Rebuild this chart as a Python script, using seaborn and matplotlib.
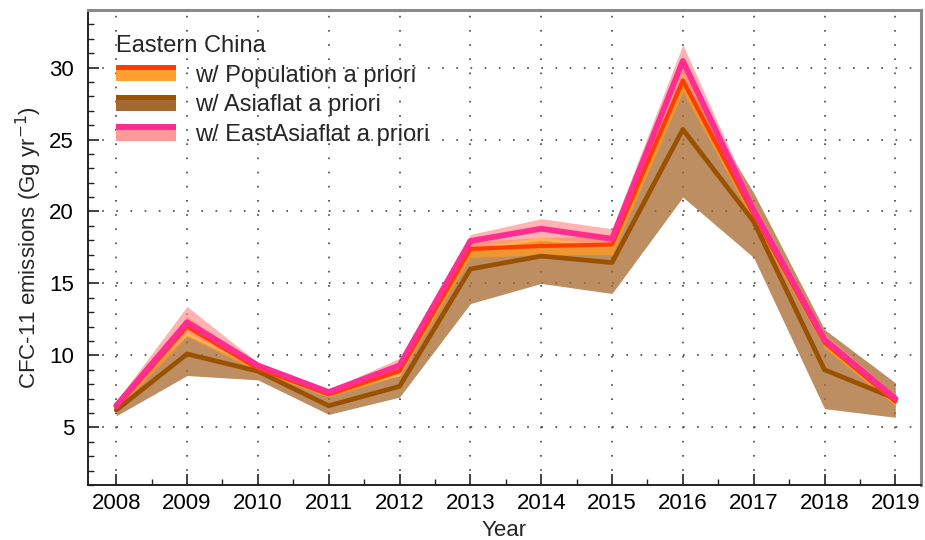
import matplotlib
matplotlib.use("Agg")
import matplotlib.pyplot as plt
from matplotlib.patches import Patch, Rectangle
from matplotlib.legend_handler import HandlerBase
from matplotlib.ticker import MultipleLocator
import numpy as np
import pandas as pd
import seaborn as sns

# ---- data: annual CFC-11 emissions from Eastern China (Gg/yr) ----
years = [2008, 2009, 2010, 2011, 2012, 2013, 2014, 2015, 2016, 2017, 2018, 2019]

pop_mean = [6.4, 12.0, 9.1, 7.3, 8.9, 17.4, 17.6, 17.7, 29.1, 19.8, 10.9, 6.8]
pop_low = [6.2, 11.3, 8.9, 7.1, 8.6, 16.8, 17.0, 17.0, 28.3, 19.3, 10.5, 6.5]
pop_high = [6.6, 12.7, 9.3, 7.5, 9.2, 17.9, 18.2, 18.3, 29.9, 20.4, 11.4, 7.1]

asia_mean = [6.2, 10.1, 8.9, 6.5, 7.85, 16.0, 16.9, 16.45, 25.7, 19.3, 9.0, 7.0]
asia_low = [5.8, 8.6, 8.3, 5.9, 7.1, 13.6, 15.0, 14.3, 21.0, 16.8, 6.3, 5.7]
asia_high = [6.8, 11.4, 9.1, 7.3, 8.6, 17.3, 18.0, 17.5, 29.4, 21.3, 11.8, 8.1]

east_mean = [6.5, 12.3, 9.3, 7.45, 9.3, 17.95, 18.8, 18.1, 30.45, 20.1, 11.1, 7.0]
east_low = [6.3, 11.6, 9.0, 7.2, 9.0, 17.5, 18.2, 17.6, 29.5, 19.5, 10.8, 6.7]
east_high = [6.8, 13.4, 9.5, 7.6, 9.8, 18.4, 19.5, 18.8, 31.6, 20.6, 11.5, 7.3]

labels = ["w/ Population a priori", "w/ Asiaflat a priori", "w/ EastAsiaflat a priori"]

# ---- styling ----
sns.set_theme(style="ticks")
plt.rcParams["font.family"] = ["Liberation Sans", "DejaVu Sans"]

line_colors = {labels[0]: "#FF3D00", labels[1]: "#9A5200", labels[2]: "#FF2D8F"}
fill_colors = {labels[0]: "#FF9A1F", labels[1]: "#A8692F", labels[2]: "#FF8A8A"}
fill_alpha = {labels[0]: 0.75, labels[1]: 0.75, labels[2]: 0.65}
line_widths = {labels[0]: 3.0, labels[1]: 3.4, labels[2]: 4.2}

df = pd.concat([
    pd.DataFrame({"Year": years, "Emission": pop_mean, "Low": pop_low,
                  "High": pop_high, "Prior": labels[0]}),
    pd.DataFrame({"Year": years, "Emission": asia_mean, "Low": asia_low,
                  "High": asia_high, "Prior": labels[1]}),
    pd.DataFrame({"Year": years, "Emission": east_mean, "Low": east_low,
                  "High": east_high, "Prior": labels[2]}),
], ignore_index=True)

fig = plt.figure(figsize=(9.25, 5.4), dpi=100)
ax = fig.add_axes([0.095, 0.102, 0.9005, 0.8795])

# uncertainty bands: Asiaflat underneath, then Population, then EastAsiaflat
for prior in [labels[1], labels[0], labels[2]]:
    sub = df[df["Prior"] == prior]
    ax.fill_between(sub["Year"], sub["Low"], sub["High"],
                    color=fill_colors[prior], alpha=fill_alpha[prior],
                    linewidth=0, zorder=2)

# central estimates
for prior in [labels[1], labels[0], labels[2]]:
    sub = df[df["Prior"] == prior]
    sns.lineplot(data=sub, x="Year", y="Emission", ax=ax,
                 color=line_colors[prior], linewidth=line_widths[prior],
                 legend=False, zorder=3)

ax.set_xlim(2007.6, 2019.36)
ax.set_ylim(1, 34)
ax.xaxis.set_major_locator(MultipleLocator(1))
ax.xaxis.set_minor_locator(MultipleLocator(0.5))
ax.yaxis.set_major_locator(MultipleLocator(5))
ax.yaxis.set_minor_locator(MultipleLocator(1))
ax.set_xticks(years)
ax.set_xticklabels([str(y) for y in years])

ax.tick_params(axis="both", which="major", direction="in", length=8, width=1.2,
               labelsize=16, colors="#222222", labelcolor="black")
ax.tick_params(axis="x", which="major", pad=6)
ax.tick_params(axis="y", which="major", pad=10)
ax.tick_params(axis="both", which="minor", direction="in", length=4, width=1.0,
               colors="#222222")
ax.tick_params(top=False, right=False, which="both")

ax.grid(True, which="major", color="#444444", linestyle=(0, (1, 7.5)), linewidth=1.2)

for side in ["left", "bottom"]:
    ax.spines[side].set_color("#222222")
    ax.spines[side].set_linewidth(1.4)
for side in ["top", "right"]:
    ax.spines[side].set_color("#8a8a8a")
    ax.spines[side].set_linewidth(2.2)

ax.set_xlabel("Year", fontsize=16, labelpad=4)
ax.set_ylabel("CFC-11 emissions (Gg yr$^{-1}$)", fontsize=16, labelpad=4)


class BandHandler(HandlerBase):
    """Legend key: a thin strip of the line colour above the band colour."""

    def create_artists(self, legend, orig_handle, xdescent, ydescent,
                       width, height, fontsize, trans):
        fill = orig_handle.get_facecolor()
        line = orig_handle.get_edgecolor()
        h_line = height * 0.32
        bottom = Rectangle((-xdescent, -ydescent), width, height - h_line,
                           facecolor=fill, edgecolor="none", transform=trans)
        top = Rectangle((-xdescent, -ydescent + height - h_line), width, h_line,
                        facecolor=line, edgecolor="none", transform=trans)
        return [bottom, top]


legend_fill = {labels[0]: "#FFA030", labels[1]: "#A26A32", labels[2]: "#FF9A9A"}
handles = [Patch(facecolor=legend_fill[p], edgecolor=line_colors[p], label=p)
           for p in labels]
leg = ax.legend(handles=handles, labels=labels, loc="upper left",
                bbox_to_anchor=(0.008, 0.992), frameon=False,
                title="Eastern China", title_fontsize=17, fontsize=17,
                alignment="left", handlelength=2.55, handleheight=0.68,
                handletextpad=0.8, labelspacing=0.32,
                handler_map={Patch: BandHandler()})

fig.savefig("out.png", dpi=100)
